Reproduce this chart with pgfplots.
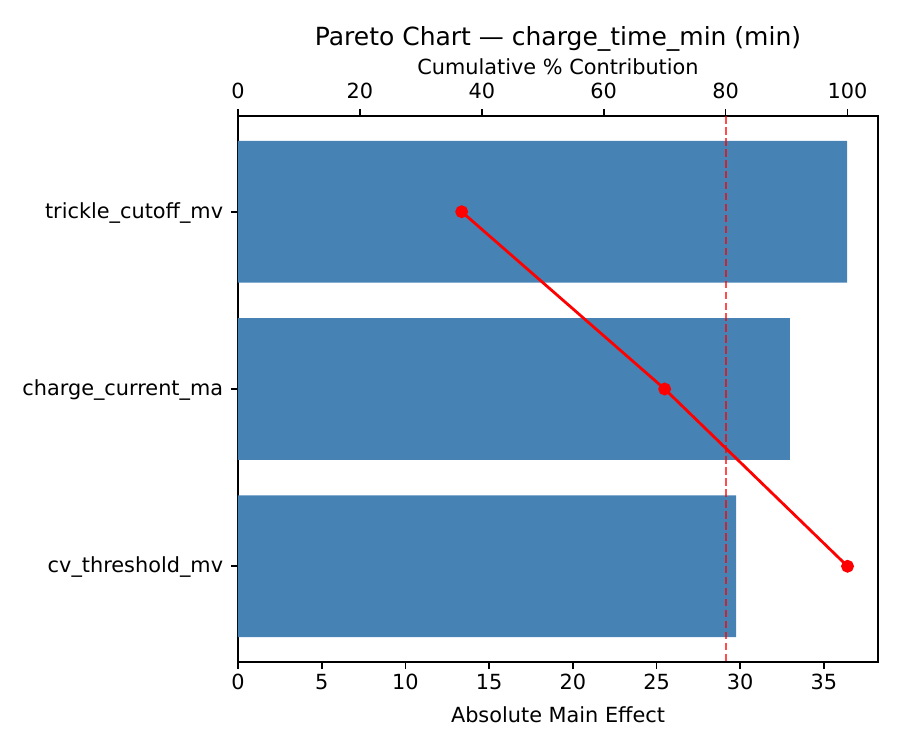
\documentclass[border=0pt]{standalone}
\usepackage{pgfplots}
\pgfplotsset{compat=1.18}
\usepackage{fontspec}
\setmainfont{DejaVu Sans}
\definecolor{steelblue}{HTML}{4682B4}

\pgfplotsset{
  base/.style={
    scale only axis,
    width=460.8pt, height=393.12pt,
    at={(171.36pt,63.36pt)}, anchor=south west,
    ymin=-0.54, ymax=2.54, y dir=reverse,
    tick align=outside, major tick length=5pt,
    tick style={black, line width=1.2pt},
    axis line style={line width=1.2pt},
    /pgf/number format/assume math mode=true,
    tick label style={font=\fontsize{15}{18}\selectfont},
    label style={font=\fontsize{15}{18}\selectfont},
  },
}

\begin{document}
\begin{tikzpicture}
\path (0,0) rectangle (648pt,540pt);
\begin{axis}[
  base,
  xmin=0, xmax=38.23,
  xtick={0,5,...,35},
  xtick pos=bottom,
  ytick={0,1,2},
  yticklabels={trickle\_cutoff\_mv, charge\_current\_ma, cv\_threshold\_mv},
  yticklabel style={xshift=-2.2pt, yshift=-0.7pt},
  ytick pos=left,
  xlabel={Absolute Main Effect},
  xlabel style={at={(0.5,0)}, anchor=center, yshift=-38pt},
]
  \addplot[xbar, bar width=0.8, fill=steelblue, draw=none, bar shift=0pt]
    coordinates {(36.38,0) (32.97,1) (29.75,2)};
\end{axis}
\begin{axis}[
  base,
  clip mode=individual,
  xmin=0, xmax=105,
  axis x line*=top,
  axis y line=none,
  xtick={0,20,...,100},
  xticklabel style={yshift=3.6pt},
  xlabel={Cumulative \% Contribution},
  xlabel style={at={(0.5,1)}, anchor=center, yshift=35.3pt},
]
  \addplot[red, opacity=0.7, line width=1.5pt, dash pattern=on 5.5pt off 2.4pt]
    coordinates {(80,-0.54) (80,2.54)};
  \addplot[red, line width=2pt, mark=*, mark size=3.6pt, mark options={solid}]
    coordinates {(36.7,0) (70.0,1) (100,2)};
  \node[font=\fontsize{18}{21}\selectfont, anchor=base, yshift=51.1pt]
    at (rel axis cs:0.5,1) {Pareto Chart — charge\_time\_min (min)};
\end{axis}
\end{tikzpicture}
\end{document}
